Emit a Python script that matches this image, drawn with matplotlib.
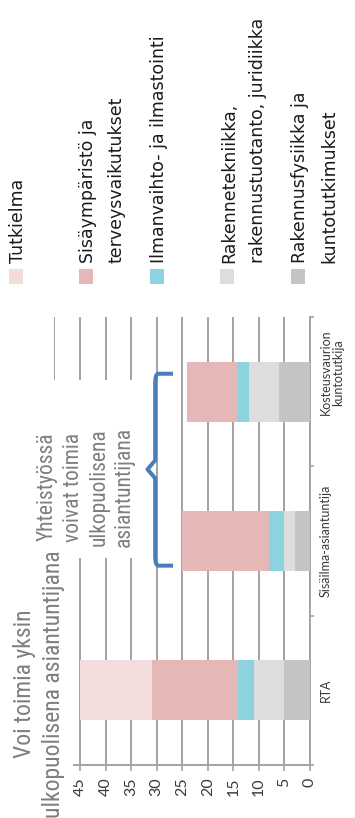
import matplotlib
matplotlib.use("Agg")
import matplotlib.pyplot as plt
from matplotlib import font_manager
from matplotlib.path import Path
from matplotlib.patches import PathPatch, Rectangle
import numpy as np

# ---- data -------------------------------------------------------------
categories = ["RTA", "Sisäilma-asiantuntija", "Kosteusvaurion\nkuntotutkija"]

series_names = [
    "Rakennusfysiikka ja\nkuntotutkimukset",
    "Rakennetekniikka,\nrakennustuotanto, juridiikka",
    "Ilmanvaihto- ja ilmastointi",
    "Sisäympäristö ja\nterveysvaikutukset",
    "Tutkielma",
]
rakennusfysiikka = [5, 3, 6]
rakennetekniikka = [6, 2, 6]
ilmanvaihto = [3, 3, 2]
sisaymparisto = [17, 17, 10]
tutkielma = [14, 0, 0]
series_values = [rakennusfysiikka, rakennetekniikka, ilmanvaihto,
                 sisaymparisto, tutkielma]
series_colors = ["#C4C4C5", "#DDDDDE", "#8DD3DF", "#E5B8B7", "#F2DCDC"]

value_ticks = [0, 5, 10, 15, 20, 25, 30, 35, 40, 45, 50]
value_tick_labels = ["0", "5", "10", "15", "20", "25", "30", "35", "40", "45", ""]

note_alone = "Voi toimia yksin\nulkopuolisena asiantuntijana"
note_together = "Yhteistyössä\nvoivat toimia\nulkopuolisena\nasiantuntijana"

# ---- fonts ------------------------------------------------------------
available = {f.name for f in font_manager.fontManager.ttflist}
main_font = "Lato" if "Lato" in available else "DejaVu Sans"
narrow_kw = {"family": main_font}
for cand in ["Liberation Sans Narrow", "Arial Narrow", "Roboto Condensed"]:
    if cand in available:
        narrow_kw = {"family": cand}
        break
else:
    for f in font_manager.fontManager.ttflist:
        if f.stretch in ("condensed", "semi-condensed") and f.style == "normal":
            narrow_kw = {"family": f.name, "stretch": f.stretch}
            break

plt.rcParams["font.family"] = [main_font, "DejaVu Sans"]

W, H = 355, 818
fig = plt.figure(figsize=(W / 100, H / 100), dpi=100)


def fx(px):
    return px / W


def fy(py):
    return 1 - py / H


# ---- axes: the chart is laid out turned a quarter turn ----------------
ax = fig.add_axes([fx(54.5), fy(765), fx(310) - fx(54.5), fy(317) - fy(765)])
grid_col = "#A3A3A3"

ypos = np.arange(len(categories))
left = np.zeros(len(categories))
for vals, col in zip(series_values, series_colors):
    vals = np.array(vals, dtype=float)
    ax.barh(ypos, vals, left=left, height=0.4, color=col, linewidth=0, zorder=3)
    left += vals

ax.set_xlim(max(value_ticks), 0)
ax.set_ylim(-0.5, len(categories) - 0.5)
ax.set_xticks(value_ticks)
ax.set_xticklabels(value_tick_labels, rotation=90,
                   fontsize=11.5, color="#3A3A3A")
ax.tick_params(axis="x", length=4, width=1.2, color=grid_col, pad=5)
ax.xaxis.grid(True, color=grid_col, linewidth=1.4, zorder=0)
ax.set_axisbelow(True)

ax.yaxis.tick_right()
ax.set_yticks([])
ax.set_yticks(np.arange(-0.5, len(categories)), minor=True)
ax.tick_params(axis="y", which="minor", length=3, width=1.2, color=grid_col,
               right=True, left=False)

for side in ("top", "left"):
    ax.spines[side].set_visible(False)
for side in ("bottom", "right"):
    ax.spines[side].set_color(grid_col)
    ax.spines[side].set_linewidth(1.4)

# category names beside the zero line
label_dy = [0, 0, 0.13]
for i, name in enumerate(categories):
    ax.text(1.038, i + label_dy[i], name, transform=ax.get_yaxis_transform(),
            rotation=90, ha="left", va="center", multialignment="center",
            fontsize=9, color="#3A3A3A", linespacing=1.0)

# brace grouping the two expert categories
bx_tip, bx_line, bx_notch = 26.8, 30.3, 31.8
y_lo, y_hi, y_mid = 0.835, 2.12, 1.48
r = 0.07
verts = [
    (bx_tip, y_hi),
    (bx_line - 0.6, y_hi), (bx_line, y_hi), (bx_line, y_hi - r),
    (bx_line, y_mid + 0.06),
    (bx_notch, y_mid),
    (bx_line, y_mid - 0.06),
    (bx_line, y_lo + r),
    (bx_line, y_lo), (bx_line - 0.6, y_lo), (bx_tip, y_lo),
]
codes = [Path.MOVETO,
         Path.LINETO, Path.CURVE3, Path.CURVE3,
         Path.LINETO, Path.LINETO, Path.LINETO, Path.LINETO,
         Path.CURVE3, Path.CURVE3, Path.LINETO]
ax.add_patch(PathPatch(Path(verts, codes), fill=False, edgecolor="#4A7EBB",
                       linewidth=2.9, capstyle="butt", joinstyle="round",
                       clip_on=False, zorder=5))

# white text boxes over the grid
for (x0, y0, x1, y1) in [(5, 552, 73, 818), (28, 380, 145, 558)]:
    fig.add_artist(Rectangle((fx(x0), fy(y1)), fx(x1) - fx(x0), fy(y0) - fy(y1),
                             transform=fig.transFigure, facecolor="white",
                             edgecolor="none", zorder=4))

fig.text(fx(39), fy(684), note_alone, rotation=90, ha="center", va="center",
         multialignment="center", fontsize=17, color="#7F7F7F",
         linespacing=1.3, zorder=6, **narrow_kw)
fig.text(fx(86), fy(487), note_together, rotation=90, ha="center", va="center",
         multialignment="center", fontsize=15.5, color="#7F7F7F",
         linespacing=1.3, zorder=6, **narrow_kw)

# legend: swatches and names, top entry first; wrapped names get one
# baseline per line
legend_order = [4, 3, 2, 1, 0]
swatch_right = [23, 93, 164, 234, 305]
line_pitch = 29
for k, idx in enumerate(legend_order):
    xr = swatch_right[k]
    fig.add_artist(Rectangle((fx(xr - 14), fy(284)), fx(14), fy(269) - fy(284),
                             transform=fig.transFigure,
                             facecolor=series_colors[idx], edgecolor="none"))
    for j, line in enumerate(series_names[idx].split("\n")):
        fig.text(fx(xr + j * line_pitch), fy(263), line, rotation=90,
                 rotation_mode="anchor", ha="left", va="baseline",
                 fontsize=12.5, color="#1A1A1A", family="DejaVu Sans")

fig.savefig("out.png", dpi=100, facecolor="white")
